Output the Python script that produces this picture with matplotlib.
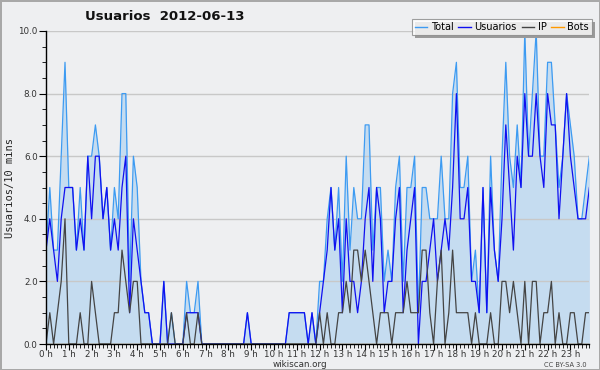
import matplotlib
matplotlib.use("Agg")
import matplotlib.pyplot as plt
from matplotlib.ticker import MultipleLocator, FixedLocator
from matplotlib.patches import Rectangle

# 10-minute slots, 0:00 .. 23:50
slots = list(range(144))
hour_labels = [f"{h} h" for h in range(24)]

usuarios = [3, 4, 3, 2, 4, 5, 5, 5, 3, 4, 3, 6, 4, 6, 6, 4, 5, 3, 4, 3, 5, 6, 1, 4,
            3, 2, 1, 1, 0, 0, 0, 2, 0, 0, 0, 0, 0, 1, 1, 1, 1, 0, 0, 0, 0, 0, 0, 0,
            0, 0, 0, 0, 0, 1, 0, 0, 0, 0, 0, 0, 0, 0, 0, 0, 1, 1, 1, 1, 1, 0, 1, 0,
            1, 2, 3, 5, 3, 4, 1, 4, 2, 2, 1, 2, 4, 5, 2, 5, 4, 1, 2, 2, 4, 5, 1, 3,
            4, 5, 0, 2, 2, 3, 4, 2, 3, 4, 3, 5, 8, 4, 4, 5, 2, 2, 1, 5, 1, 5, 3, 2,
            4, 7, 5, 3, 6, 5, 8, 6, 6, 8, 6, 5, 8, 7, 7, 4, 6, 8, 6, 5, 4, 4, 4, 5]
ip = [0, 1, 0, 1, 2, 4, 0, 0, 0, 1, 0, 0, 2, 1, 0, 0, 0, 0, 1, 1, 3, 2, 1, 2,
      2, 0, 0, 0, 0, 0, 0, 0, 0, 1, 0, 0, 0, 1, 0, 0, 1, 0, 0, 0, 0, 0, 0, 0,
      0, 0, 0, 0, 0, 0, 0, 0, 0, 0, 0, 0, 0, 0, 0, 0, 0, 0, 0, 0, 0, 0, 0, 0,
      1, 0, 1, 0, 0, 1, 1, 2, 1, 3, 3, 2, 3, 2, 1, 0, 1, 1, 1, 0, 1, 1, 1, 2,
      1, 1, 1, 3, 3, 1, 0, 2, 3, 0, 1, 3, 1, 1, 1, 1, 0, 1, 0, 0, 0, 1, 0, 0,
      2, 2, 1, 2, 1, 0, 2, 0, 2, 2, 0, 1, 1, 2, 0, 1, 0, 0, 1, 1, 0, 0, 1, 1]
total = [3, 5, 3, 3, 6, 9, 5, 5, 3, 5, 3, 6, 6, 7, 6, 4, 5, 3, 5, 4, 8, 8, 2, 6,
         5, 2, 1, 1, 0, 0, 0, 2, 0, 1, 0, 0, 0, 2, 1, 1, 2, 0, 0, 0, 0, 0, 0, 0,
         0, 0, 0, 0, 0, 1, 0, 0, 0, 0, 0, 0, 0, 0, 0, 0, 1, 1, 1, 1, 1, 0, 1, 0,
         2, 2, 4, 5, 3, 5, 2, 6, 3, 5, 4, 4, 7, 7, 3, 5, 5, 2, 3, 2, 5, 6, 2, 5,
         5, 6, 1, 5, 5, 4, 4, 4, 6, 4, 4, 8, 9, 5, 5, 6, 2, 3, 1, 5, 1, 6, 3, 2,
         6, 9, 6, 5, 7, 5, 10, 6, 8, 10, 6, 6, 9, 9, 7, 5, 6, 8, 7, 6, 4, 4, 5, 6]
bots = [0] * 144

BG = "#eeeff1"
fig = plt.figure(figsize=(6.0, 3.7), dpi=100)
fig.patch.set_facecolor(BG)
fig.patch.set_edgecolor("#a8a8a8")
fig.patch.set_linewidth(2)

ax = fig.add_axes([46 / 600, 26 / 370, (589.4 - 46) / 600, (344 - 31) / 370])
ax.set_facecolor(BG)

ax.fill_between(slots, total, 0, color="#c5dcf0", lw=0, zorder=1)
for y in [2, 4, 6, 8, 10]:
    ax.axhline(y, color="#c8c8c8", lw=1.0, zorder=1.5)
ax.plot(slots, bots, color="#ff9900", lw=0.9, zorder=2)
ax.plot(slots, total, color="#3d9bf2", lw=0.9, zorder=3)
ax.plot(slots, usuarios, color="#1010f0", lw=0.9, zorder=4)
ax.plot(slots, ip, color="#444444", lw=0.9, zorder=5)

ax.set_xlim(0, 143)
ax.set_ylim(0, 10)

for s in ["top", "right"]:
    ax.spines[s].set_visible(False)
for s in ["left", "bottom"]:
    ax.spines[s].set_color("black")
    ax.spines[s].set_linewidth(1.0)
    ax.spines[s].set_zorder(6)

ax.xaxis.set_major_locator(FixedLocator([h * 6 for h in range(24)]))
ax.set_xticklabels(hour_labels)
ax.xaxis.set_minor_locator(MultipleLocator(1))
ax.yaxis.set_major_locator(MultipleLocator(2))
ax.yaxis.set_minor_locator(MultipleLocator(0.5))
ax.set_yticklabels([f"{v:.1f}" for v in ax.get_yticks()])
ax.tick_params(axis="both", which="major", length=5, width=0.8, color="black",
               labelsize=6.3, labelcolor="#333333", pad=1)
ax.tick_params(axis="x", which="major", length=4, pad=0.5)
ax.tick_params(axis="both", which="minor", length=3, width=0.6, color="black")

fig.text(85 / 600, 1 - 17 / 370, "Usuarios  2012-06-13", fontsize=9.5,
         fontweight="bold", ha="left", va="center", color="#111111")
fig.text(10 / 600, 1 - 188 / 370, "Usuarios/10 mins", rotation=90,
         fontsize=7.5, family="DejaVu Sans Mono", ha="center", va="center",
         color="#222222")
fig.text(300 / 600, 1 - 364.5 / 370, "wikiscan.org", fontsize=6.3,
         ha="center", va="center", color="#333333")
fig.text(565 / 600, 1 - 365 / 370, "CC BY-SA 3.0", fontsize=4.8,
         ha="center", va="center", color="#444444")

handles = [
    plt.Line2D([], [], color="#3d9bf2", lw=1),
    plt.Line2D([], [], color="#1010f0", lw=1),
    plt.Line2D([], [], color="#444444", lw=1),
    plt.Line2D([], [], color="#ff9900", lw=1),
]
leg = fig.legend(handles, ["Total", "Usuarios", "IP", "Bots"], ncol=4,
                 loc="upper right", bbox_to_anchor=(592 / 600, 1 - 19 / 370),
                 fontsize=7, frameon=True, fancybox=False, shadow=False,
                 handlelength=1.25, handletextpad=0.4, columnspacing=0.5,
                 borderpad=0.3, borderaxespad=0)
leg.set_zorder(10)
leg.get_frame().set_edgecolor("#888888")
leg.get_frame().set_linewidth(0.8)
leg.get_frame().set_facecolor("white")

# legend drop shadow
fig.canvas.draw()
bb = leg.get_window_extent().transformed(fig.transFigure.inverted())
dx, dy = 3 / 600, 3 / 370
fig.patches.append(Rectangle((bb.x0 + dx, bb.y0 - dy), bb.width, bb.height,
                             transform=fig.transFigure, facecolor="#9a9a9a",
                             edgecolor="none", zorder=9))

fig.savefig("out.png", dpi=100, facecolor=BG, edgecolor=fig.get_edgecolor())
